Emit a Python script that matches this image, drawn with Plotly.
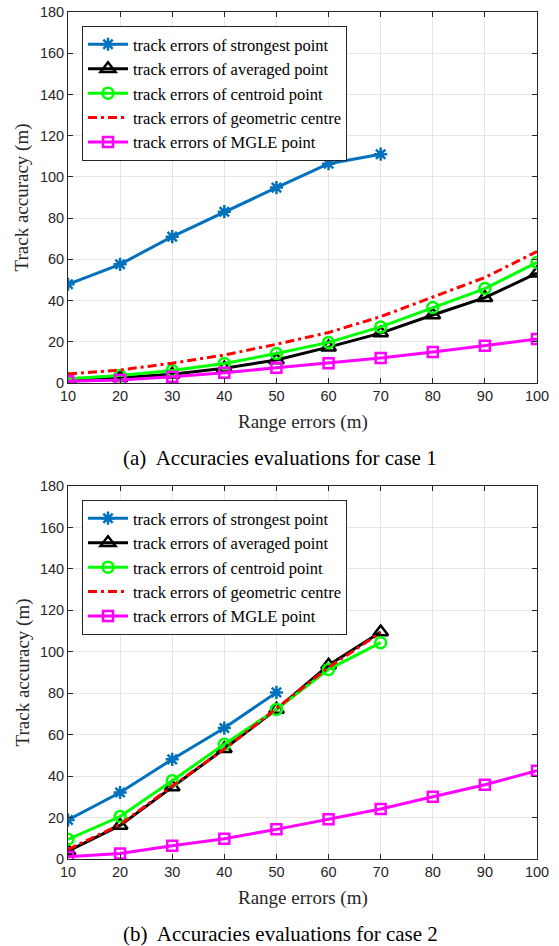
import plotly.graph_objects as go

range_errors = [10, 20, 30, 40, 50, 60, 70, 80, 90, 100]
x_ticks = [10, 20, 30, 40, 50, 60, 70, 80, 90, 100]
y_ticks = [0, 20, 40, 60, 80, 100, 120, 140, 160, 180]

series_names = [
    "track errors of strongest point",
    "track errors of averaged point",
    "track errors of centroid point",
    "track errors of geometric centre",
    "track errors of MGLE point",
]

# Case 1
c1_strongest = [47.9, 57.6, 71.0, 83.1, 94.8, 106.4, 111.0]
c1_averaged = [1.5, 2.5, 4.2, 7.2, 11.2, 17.4, 24.2, 33.0, 41.4, 53.3]
c1_centroid = [2.1, 3.6, 6.1, 9.5, 14.3, 19.7, 27.2, 36.6, 45.8, 58.5]
c1_geometric = [4.4, 6.3, 9.6, 13.6, 18.8, 24.5, 32.2, 41.8, 51.2, 63.8]
c1_mgle = [0.8, 1.5, 3.0, 5.0, 7.4, 9.6, 12.1, 15.0, 18.1, 21.3]

# Case 2
c2_strongest = [18.8, 32.1, 48.1, 63.2, 80.4]
c2_averaged = [3.8, 16.2, 34.7, 53.2, 72.2, 93.5, 109.5]
c2_centroid = [9.5, 20.5, 37.8, 55.4, 72.2, 91.5, 104.4]
c2_geometric = [4.6, 16.6, 35.2, 53.0, 72.6, 92.5, 109.2]
c2_mgle = [1.1, 2.7, 6.4, 9.8, 14.3, 19.2, 24.1, 30.0, 35.8, 42.6]

captions = ["(a)\u00a0 Accuracies evaluations for case 1", "(b)\u00a0 Accuracies evaluations for case 2"]
x_title = "Range errors (m)"
y_title = "Track accuracy (m)"

W, H = 559, 946
SERIF = "Liberation Serif"
SANS = "Liberation Sans"

styles = [
    dict(color="#0072BD", symbol="asterisk-open", dash="solid", size=11, mode="lines+markers"),
    dict(color="#000000", symbol="triangle-up-open", dash="solid", size=13, mode="lines+markers"),
    dict(color="#00FF00", symbol="circle-open", dash="solid", size=11, mode="lines+markers"),
    dict(color="#FF0000", symbol="circle", dash="9px,4px,3px,4px", size=1, mode="lines"),
    dict(color="#FF00FF", symbol="square-open", dash="solid", size=10, mode="lines+markers"),
]

fig = go.Figure()

cases = [
    (["x", "y", "legend"], [c1_strongest, c1_averaged, c1_centroid, c1_geometric, c1_mgle]),
    (["x2", "y2", "legend2"], [c2_strongest, c2_averaged, c2_centroid, c2_geometric, c2_mgle]),
]

for (xa, ya, lg), data in cases:
    for name, vals, st in zip(series_names, data, styles):
        fig.add_trace(go.Scatter(
            x=range_errors[:len(vals)], y=vals, name=name, mode=st["mode"],
            xaxis=xa, yaxis=ya, legend=lg,
            line=dict(color=st["color"], width=3, dash=st["dash"]),
            marker=dict(symbol=st["symbol"], size=st["size"], color=st["color"],
                        line=dict(color=st["color"], width=2.5)),
        ))

def px_x(p):
    return p / W

def px_y(p):
    return 1 - p / H

x0, x1 = 68, 537
panels = [(12, 383), (486, 859)]

axis_common = dict(
    showline=True, linecolor="#262626", linewidth=1, mirror="ticks",
    ticks="inside", ticklen=5, tickcolor="#262626", tickwidth=1,
    showgrid=True, gridcolor="#e6e6e6", gridwidth=1, zeroline=False,
    tickfont=dict(family=SANS, size=14.5, color="#262626"),
    automargin=False,
)

layout = dict(
    width=W, height=H, margin=dict(l=0, r=0, t=0, b=0, autoexpand=False),
    paper_bgcolor="white", plot_bgcolor="white", showlegend=True,
)
for i, (top, bot) in enumerate(panels):
    sfx = "" if i == 0 else str(i + 1)
    layout["xaxis" + sfx] = dict(axis_common, domain=[px_x(x0), px_x(x1)], range=[10, 100],
                                 tickvals=x_ticks, anchor="y" + sfx)
    layout["yaxis" + sfx] = dict(axis_common, domain=[px_y(bot), px_y(top)], range=[0, 180],
                                 tickvals=y_ticks, anchor="x" + sfx)
    layout["legend" + sfx] = dict(
        x=px_x(82), y=px_y(top + 14), xanchor="left", yanchor="top",
        bgcolor="white", bordercolor="#262626", borderwidth=1,
        font=dict(family=SERIF, size=16.5, color="#000000"),
        tracegroupgap=0, itemwidth=40,
    )

fig.update_layout(**layout)

annots = []
for i, (top, bot) in enumerate(panels):
    annots.append(dict(x=px_x((x0 + x1) / 2), y=px_y(bot + 39), xref="paper", yref="paper",
                       text=x_title, showarrow=False, font=dict(family=SERIF, size=19, color="#262626"),
                       xanchor="center", yanchor="middle"))
    annots.append(dict(x=px_x(22), y=px_y((top + bot) / 2), xref="paper", yref="paper",
                       text=y_title, showarrow=False, textangle=-90,
                       font=dict(family=SERIF, size=19, color="#262626"),
                       xanchor="center", yanchor="middle"))
    annots.append(dict(x=px_x(280), y=px_y(bot + 75), xref="paper", yref="paper",
                       text=captions[i], showarrow=False,
                       font=dict(family=SERIF, size=21, color="#000000"),
                       xanchor="center", yanchor="middle"))
fig.update_layout(annotations=annots)

fig.write_html(
    "out.html",
    config={"displayModeBar": False},
    post_script="document.body.style.margin='0';document.body.style.overflow='hidden';",
)
